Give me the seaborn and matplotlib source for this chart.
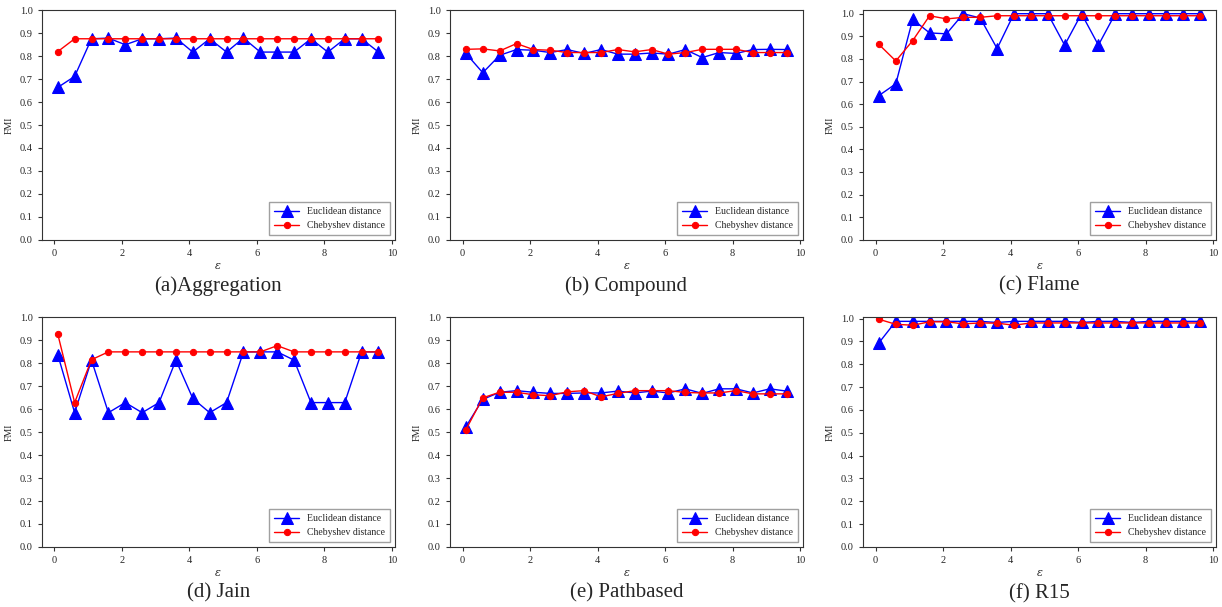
import matplotlib
matplotlib.use("Agg")
import matplotlib.pyplot as plt
import seaborn as sns

eps = [0.1, 0.6, 1.1, 1.6, 2.1, 2.6, 3.1, 3.6, 4.1, 4.6,
       5.1, 5.6, 6.1, 6.6, 7.1, 7.6, 8.1, 8.6, 9.1, 9.6]

# Euclidean / Chebyshev FMI per dataset
agg_euc = [0.664, 0.712, 0.876, 0.879, 0.850, 0.876, 0.876, 0.879, 0.818, 0.876,
           0.818, 0.879, 0.818, 0.818, 0.818, 0.876, 0.818, 0.876, 0.876, 0.818]
agg_che = [0.820, 0.876, 0.876, 0.876, 0.876, 0.876, 0.876, 0.876, 0.876, 0.876,
           0.876, 0.876, 0.876, 0.876, 0.876, 0.876, 0.876, 0.876, 0.876, 0.876]

com_euc = [0.812, 0.728, 0.804, 0.829, 0.826, 0.816, 0.829, 0.812, 0.829, 0.809,
           0.809, 0.814, 0.809, 0.829, 0.794, 0.816, 0.812, 0.829, 0.830, 0.829]
com_che = [0.830, 0.832, 0.823, 0.855, 0.829, 0.826, 0.816, 0.816, 0.816, 0.829,
           0.819, 0.829, 0.809, 0.816, 0.830, 0.830, 0.830, 0.816, 0.816, 0.816]

fla_euc = [0.638, 0.690, 0.975, 0.915, 0.911, 1.0, 0.981, 0.846, 1.0, 1.0,
           1.0, 0.861, 1.0, 0.861, 1.0, 1.0, 1.0, 1.0, 1.0, 1.0]
fla_che = [0.864, 0.791, 0.881, 0.991, 0.977, 0.984, 0.984, 0.991, 0.991, 0.991,
           0.991, 0.991, 0.991, 0.991, 0.991, 0.991, 0.991, 0.991, 0.991, 0.991]

jai_euc = [0.838, 0.585, 0.814, 0.585, 0.629, 0.585, 0.629, 0.814, 0.647, 0.585,
           0.629, 0.850, 0.850, 0.850, 0.814, 0.629, 0.629, 0.629, 0.850, 0.850]
jai_che = [0.928, 0.629, 0.816, 0.850, 0.850, 0.850, 0.850, 0.850, 0.850, 0.850,
           0.850, 0.850, 0.850, 0.877, 0.850, 0.850, 0.850, 0.850, 0.850, 0.850]

pat_euc = [0.524, 0.643, 0.674, 0.681, 0.674, 0.669, 0.669, 0.671, 0.671, 0.679,
           0.671, 0.679, 0.671, 0.689, 0.669, 0.689, 0.689, 0.671, 0.689, 0.679]
pat_che = [0.511, 0.650, 0.674, 0.674, 0.663, 0.659, 0.676, 0.681, 0.654, 0.669,
           0.681, 0.681, 0.681, 0.673, 0.671, 0.671, 0.681, 0.667, 0.667, 0.667]

r15_euc = [0.894, 0.988, 0.988, 0.988, 0.988, 0.988, 0.988, 0.983, 0.988, 0.988,
           0.988, 0.988, 0.983, 0.988, 0.988, 0.983, 0.988, 0.988, 0.988, 0.988]
r15_che = [0.997, 0.975, 0.971, 0.986, 0.986, 0.977, 0.981, 0.980, 0.971, 0.981,
           0.981, 0.981, 0.981, 0.981, 0.981, 0.981, 0.981, 0.981, 0.981, 0.981]

captions = ["(a)Aggregation", "(b) Compound", "(c) Flame",
            "(d) Jain", "(e) Pathbased", "(f) R15"]
euc_all = [agg_euc, com_euc, fla_euc, jai_euc, pat_euc, r15_euc]
che_all = [agg_che, com_che, fla_che, jai_che, pat_che, r15_che]
ytops = [1.0, 1.0, 1.015, 1.0, 1.0, 1.005]

sns.set_style("ticks")
plt.rcParams["font.family"] = ["Liberation Serif", "DejaVu Serif"]
plt.rcParams["mathtext.fontset"] = "dejavuserif"

fig = plt.figure(figsize=(12.22, 6.07), dpi=100)

lefts = [0.034, 0.368, 0.706]
bottoms = [0.605, 0.099]
w, h = 0.289, 0.378

for i in range(6):
    r, c = divmod(i, 3)
    ax = fig.add_axes([lefts[c], bottoms[r], w, h])
    sns.lineplot(x=eps, y=euc_all[i], ax=ax, color="blue", marker="^",
                 markersize=9, markeredgecolor="blue", linewidth=1,
                 label="Euclidean distance")
    sns.lineplot(x=eps, y=che_all[i], ax=ax, color="red", marker="o",
                 markersize=4.5, markeredgecolor="red", linewidth=1,
                 label="Chebyshev distance")
    ax.set_xlim(-0.38, 10.08)
    ax.set_ylim(0, ytops[i])
    ax.set_xticks([0, 2, 4, 6, 8, 10])
    ax.set_yticks([k / 10 for k in range(11)])
    ax.set_yticklabels([f"{k / 10:.1f}" for k in range(11)])
    ax.tick_params(labelsize=7.5, length=3, width=0.8, color="#333333")
    for s in ax.spines.values():
        s.set_linewidth(0.8)
        s.set_color("#333333")
    ax.set_ylabel("FMI", fontsize=7)
    ax.set_xlabel(r"$\varepsilon$", fontsize=8, labelpad=2)
    ax.legend(loc="lower right", fontsize=7, frameon=True, fancybox=False,
              edgecolor="#888888", borderpad=0.5, handlelength=2.6)
    ax.text(0.5, -0.16, captions[i], transform=ax.transAxes, ha="center",
            va="top", fontsize=15)

fig.savefig("out.png", dpi=100)
